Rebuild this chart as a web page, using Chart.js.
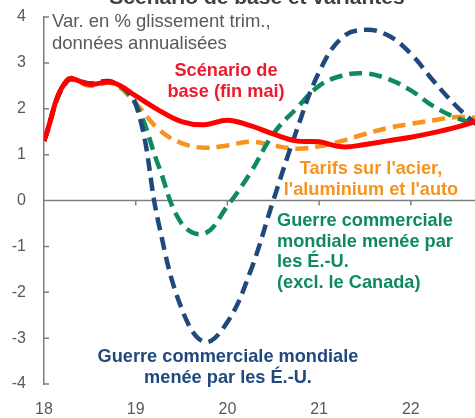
<!DOCTYPE html>
<html>
<head>
<meta charset="utf-8">
<script src="https://cdn.jsdelivr.net/npm/chart.js@4.4.1/dist/chart.umd.min.js"></script>
<style>
  html, body { margin: 0; padding: 0; background: #fff; }
  #wrap { position: relative; width: 475px; height: 418px; overflow: hidden; font-family: "Liberation Sans", Arial, sans-serif; }
  #wrap canvas { position: absolute; left: 0; top: 0; }
  .lbl { position: absolute; font-weight: bold; font-size: 18.2px; line-height: 20.5px; white-space: nowrap; }
  #title { left: 257px; top: -14px; transform: translateX(-50%); font-size: 21px; line-height: 21px; color: #404040; }
  #unit { left: 52px; top: 10px; font-weight: normal; font-size: 18.5px; line-height: 22px; color: #595959; }
  #lblBase { left: 226px; top: 60px; transform: translateX(-50%); text-align: center; color: #ec1c2e; }
  #lblTarifs { left: 371px; top: 158px; transform: translateX(-50%); text-align: center; color: #f7931e; }
  #lblExcl { left: 277px; top: 210px; color: #0e8a5c; }
  #lblGlobal { left: 228px; top: 346px; transform: translateX(-50%); text-align: center; color: #1f497d; }
</style>
</head>
<body>
<div id="wrap">
  <canvas id="chart" width="475" height="418"></canvas>
  <div class="lbl" id="title">Scénario de base et variantes</div>
  <div class="lbl" id="unit">Var. en % glissement trim.,<br>données annualisées</div>
  <div class="lbl" id="lblBase">Scénario de<br>base (fin mai)</div>
  <div class="lbl" id="lblTarifs">Tarifs sur l'acier,<br>l'aluminium et l'auto</div>
  <div class="lbl" id="lblExcl">Guerre commerciale<br>mondiale menée par<br>les É.-U.<br>(excl. le Canada)</div>
  <div class="lbl" id="lblGlobal">Guerre commerciale mondiale<br>menée par les É.-U.</div>
</div>
<script>
// quarterly points, year fraction (18 = 2018T1)
const quarters = [18, 18.25, 18.5, 18.75, 19, 19.25, 19.5, 19.75, 20, 20.25,
                  20.5, 20.75, 21, 21.25, 21.5, 21.75, 22, 22.25, 22.5, 22.75];

const baseScenario = [1.3, 2.62, 2.53, 2.57, 2.28, 1.97, 1.72, 1.65, 1.75, 1.63,
                      1.45, 1.3, 1.28, 1.17, 1.22, 1.3, 1.38, 1.48, 1.6, 1.75];
const tarifsAcier = [1.3, 2.6, 2.5, 2.55, 2.12, 1.55, 1.25, 1.15, 1.2, 1.28,
                     1.2, 1.13, 1.18, 1.3, 1.45, 1.58, 1.67, 1.75, 1.82, 1.8];
const guerreExclCanada = [1.3, 2.6, 2.55, 2.58, 2.1, 0.75, -0.5, -0.72, -0.12, 0.6,
                          1.45, 2.0, 2.5, 2.72, 2.77, 2.65, 2.4, 2.05, 1.8, 1.65];
const guerreMondiale = [1.3, 2.6, 2.55, 2.58, 2.1, -0.5, -2.35, -3.08, -2.65, -1.55,
                        0.0, 1.5, 2.8, 3.55, 3.72, 3.6, 3.2, 2.6, 2.05, 1.6];

const yearTicks = [18, 19, 20, 21, 22];

const AXIS = "#7f7f7f";
const TEXT = "#595959";

function toPoints(values) {
  return quarters.map((q, i) => ({ x: q, y: values[i] }));
}

// zero line with downward year ticks, short inward ticks on the y axis
const axisMarks = {
  id: "axisMarks",
  beforeDatasetsDraw(chart) {
    const { ctx, chartArea, scales: { x, y } } = chart;
    const y0 = y.getPixelForValue(0);
    ctx.save();
    ctx.strokeStyle = AXIS;
    ctx.lineWidth = 1.5;
    ctx.beginPath();
    ctx.moveTo(chartArea.left, y0);
    ctx.lineTo(chartArea.right, y0);
    yearTicks.forEach((t) => {
      const px = x.getPixelForValue(t);
      if (px > chartArea.left + 1) {
        ctx.moveTo(px, y0);
        ctx.lineTo(px, y0 + 5);
      }
    });
    y.ticks.forEach((t) => {
      const py = y.getPixelForValue(t.value);
      ctx.moveTo(chartArea.left, py);
      ctx.lineTo(chartArea.left + 5, py);
    });
    ctx.stroke();
    ctx.restore();
  },
};

function lineSet(label, values, color, dashed) {
  return {
    label,
    data: toPoints(values),
    borderColor: color,
    borderWidth: dashed ? 4.5 : 5,
    borderDash: dashed ? [13, 7] : [],
    pointRadius: 0,
    tension: 0.4,
    fill: false,
  };
}

new Chart(document.getElementById("chart"), {
  type: "line",
  data: {
    datasets: [
      lineSet("Scénario de base (fin mai)", baseScenario, "#ff0000", false),
      lineSet("Guerre commerciale mondiale menée par les É.-U.", guerreMondiale, "#1f497d", true),
      lineSet("Guerre commerciale mondiale menée par les É.-U. (excl. le Canada)", guerreExclCanada, "#0e8a5c", true),
      lineSet("Tarifs sur l'acier, l'aluminium et l'auto", tarifsAcier, "#f7931e", true),
    ],
  },
  options: {
    responsive: false,
    animation: false,
    layout: { padding: { top: 17, right: 0, left: 0, bottom: 0 } },
    scales: {
      x: {
        type: "linear",
        min: 18,
        max: 22.7,
        grid: { display: false, drawTicks: false },
        border: { display: false },
        afterFit: (s) => { s.height = 34; s.paddingLeft = 0; s.paddingRight = 0; },
        ticks: {
          stepSize: 1,
          includeBounds: false,
          padding: 16,
          color: TEXT,
          font: { family: "'Liberation Sans', Arial, sans-serif", size: 16 },
          maxRotation: 0,
          callback: (v) => (Number.isInteger(v) ? String(v) : ""),
        },
      },
      y: {
        min: -4,
        max: 4,
        grid: { display: false, drawTicks: false },
        border: { display: true, color: AXIS, width: 1.5 },
        afterFit: (s) => { s.width = 44; s.paddingTop = 0; s.paddingBottom = 0; },
        ticks: {
          stepSize: 1,
          padding: 18,
          color: TEXT,
          font: { family: "'Liberation Sans', Arial, sans-serif", size: 16 },
        },
      },
    },
    plugins: {
      legend: { display: false },
      tooltip: { enabled: false },
    },
  },
  plugins: [axisMarks],
});
</script>
</body>
</html>
